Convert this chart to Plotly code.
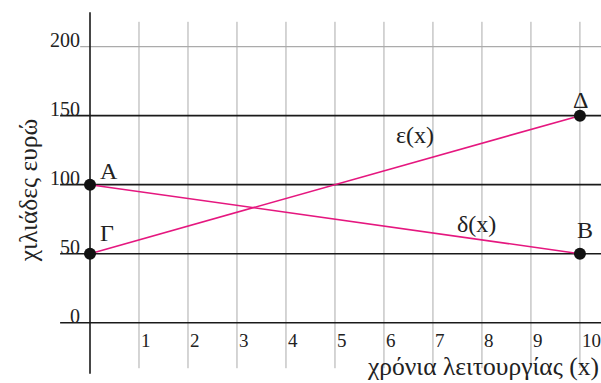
import plotly.graph_objects as go

# Data
years = [1, 2, 3, 4, 5, 6, 7, 8, 9, 10]
y_ticks = [0, 50, 100, 150, 200]
bold_levels = [0, 50, 100, 150]
light_levels = [200]

delta_x = [0, 10]
delta_y = [100, 50]
eps_x = [0, 10]
eps_y = [50, 150]

point_names = ["Α", "Β", "Γ", "Δ"]
point_x = [0, 10, 0, 10]
point_y = [100, 50, 50, 150]

PINK = "#E5177F"
GRAY = "#ABABAB"
FONT = "Liberation Serif"

fig = go.Figure()

shapes = []
# vertical grid lines
for v in years:
    shapes.append(dict(type="line", x0=v, x1=v, y0=-33, y1=218,
                       line=dict(color=GRAY, width=1), layer="below"))
# horizontal reference lines
for h in bold_levels:
    shapes.append(dict(type="line", x0=-0.61, x1=10.6, y0=h, y1=h,
                       line=dict(color="#1a1a1a", width=1.6), layer="below"))
for h in light_levels:
    shapes.append(dict(type="line", x0=-0.2, x1=10.6, y0=h, y1=h,
                       line=dict(color=GRAY, width=1.4), layer="below"))
# vertical axis
shapes.append(dict(type="line", x0=0, x1=0, y0=-37, y1=225,
                   line=dict(color="#1a1a1a", width=1.6), layer="below"))

fig.add_trace(go.Scatter(x=delta_x, y=delta_y, mode="lines",
                         line=dict(color=PINK, width=1.6), hoverinfo="skip"))
fig.add_trace(go.Scatter(x=eps_x, y=eps_y, mode="lines",
                         line=dict(color=PINK, width=1.6), hoverinfo="skip"))
fig.add_trace(go.Scatter(x=point_x, y=point_y, mode="markers",
                         marker=dict(color="#111111", size=12), hoverinfo="skip"))

annotations = []
ytick_font = dict(family=FONT, size=20, color="#222222")
xtick_font = dict(family=FONT, size=19, color="#222222")
for t in y_ticks:
    annotations.append(dict(x=0, y=t, xref="x", yref="y", text=str(t),
                            showarrow=False, xanchor="right", yanchor="middle",
                            xshift=-8, yshift=7, font=ytick_font))
for t in years:
    annotations.append(dict(x=t, y=0, xref="x", yref="y", text=str(t),
                            showarrow=False, xanchor="left", yanchor="middle",
                            xshift=0, yshift=-18, font=xtick_font))

label_font = dict(family=FONT, size=24, color="#222222")
offsets = {"Α": (19, 14), "Β": (5, 24), "Γ": (17, 21), "Δ": (1, 16)}
for name, px, py in zip(point_names, point_x, point_y):
    dx, dy = offsets[name]
    annotations.append(dict(x=px, y=py, xref="x", yref="y", text=name,
                            showarrow=False, xshift=dx, yshift=dy, font=label_font))

annotations.append(dict(x=6.63, y=136, xref="x", yref="y", text="ε(x)",
                        showarrow=False, font=label_font))
annotations.append(dict(x=7.88, y=71.5, xref="x", yref="y", text="δ(x)",
                        showarrow=False, font=label_font))

# axis titles
title_font = dict(family=FONT, size=25.5, color="#222222")
annotations.append(dict(x=-1.265, y=96, xref="x", yref="y", text="χιλιάδες ευρώ",
                        textangle=-90, showarrow=False, font=title_font))
annotations.append(dict(x=1, y=-31.4, xref="paper", yref="y",
                        text="χρόνια λειτουργίας (x)", xanchor="right",
                        xshift=0, showarrow=False, font=title_font))

fig.update_layout(
    width=601, height=383,
    margin=dict(l=0, r=0, t=0, b=0),
    paper_bgcolor="white", plot_bgcolor="white",
    showlegend=False,
    shapes=shapes,
    annotations=annotations,
    xaxis=dict(range=[-1.837, 10.43], visible=False, fixedrange=True),
    yaxis=dict(range=[-43.7, 233.8], visible=False, fixedrange=True),
)

fig.write_html("out.html")
